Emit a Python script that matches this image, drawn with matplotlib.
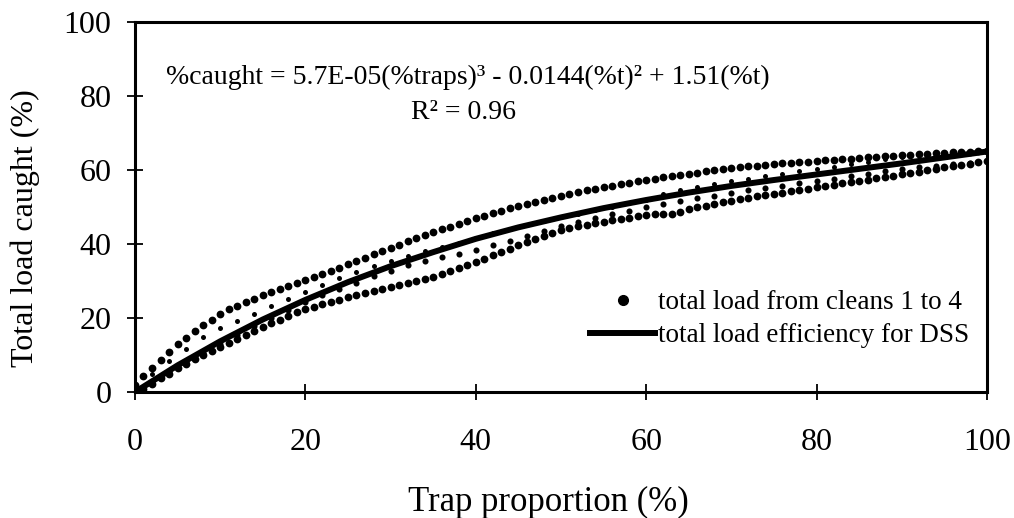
import matplotlib
matplotlib.use("Agg")
import matplotlib.pyplot as plt
from matplotlib.lines import Line2D

plt.rcParams['font.family'] = ['Liberation Serif', 'DejaVu Serif']

# trap proportion (%) for the 1% and 2% spaced bands
x_fine = list(range(0, 101))
x_coarse = list(range(2, 101, 2))

# upper band of cleans
clean_a = [2.0, 4.4, 6.5, 8.7, 10.9, 13.0, 14.7, 16.4, 18.0, 19.5,
           21.0, 22.4, 23.3, 24.3, 25.2, 26.2, 27.0, 27.8, 28.6, 29.4,
           30.2, 31.1, 31.9, 32.8, 33.6, 34.5, 35.4, 36.3, 37.2, 38.1,
           39.0, 39.8, 40.7, 41.5, 42.4, 43.2, 44.0, 44.7, 45.5, 46.2,
           47.0, 47.7, 48.3, 49.0, 49.6, 50.3, 50.9, 51.4, 52.0, 52.5,
           53.1, 53.5, 54.0, 54.5, 54.9, 55.4, 55.8, 56.2, 56.5, 56.9,
           57.3, 57.6, 58.0, 58.3, 58.7, 59.0, 59.3, 59.6, 60.0, 60.3,
           60.6, 60.8, 61.0, 61.2, 61.4, 61.6, 61.8, 62.0, 62.1, 62.3,
           62.4, 62.6, 62.8, 62.9, 63.1, 63.2, 63.4, 63.5, 63.7, 63.8,
           64.0, 64.1, 64.3, 64.4, 64.5, 64.7, 64.8, 64.9, 65.0, 65.1,
           65.2]

# lowest band of cleans
clean_d = [0.5, 0.9, 2.3, 3.7, 5.0, 6.4, 7.6, 8.9, 10.0, 11.2,
           12.2, 13.3, 14.4, 15.5, 16.6, 17.6, 18.6, 19.6, 20.5, 21.5,
           22.4, 23.1, 23.8, 24.4, 25.0, 25.6, 26.2, 26.8, 27.3, 27.9,
           28.4, 29.0, 29.5, 30.1, 30.6, 31.2, 32.0, 32.7, 33.5, 34.3,
           35.1, 36.0, 36.9, 37.8, 38.7, 39.6, 40.5, 41.4, 42.2, 43.1,
           43.9, 44.4, 44.8, 45.2, 45.6, 46.0, 46.4, 46.8, 47.1, 47.5,
           47.9, 48.0, 48.1, 48.1, 48.7, 49.4, 49.9, 50.4, 50.8, 51.3,
           51.7, 52.1, 52.5, 52.9, 53.2, 53.6, 53.9, 54.3, 54.6, 55.0,
           55.3, 55.7, 56.0, 56.4, 56.7, 57.1, 57.4, 57.8, 58.1, 58.5,
           58.8, 59.2, 59.5, 60.0, 60.3, 60.7, 61.0, 61.4, 61.7, 62.2,
           62.5]

# dotted band just above the fit
clean_b = [4.8, 8.3, 11.6, 14.8, 17.2, 19.3, 21.2, 23.2, 25.1, 27.0,
           28.9, 30.7, 32.4, 34.0, 35.5, 36.8, 38.0, 39.2, 40.4, 41.7,
           42.9, 44.0, 45.1, 46.2, 47.2, 48.2, 49.2, 50.1, 51.0, 52.0,
           53.6, 54.6, 55.4, 56.2, 56.9, 57.6, 58.3, 58.9, 59.6, 60.2,
           60.9, 61.6, 62.3, 63.0, 63.6, 64.1, 64.5, 64.8, 65.0, 65.1]

# band just below the fit
clean_c = [2.5, 5.3, 8.0, 10.6, 13.1, 15.5, 17.8, 20.0, 22.1, 24.2,
           26.1, 27.9, 29.6, 31.3, 32.8, 34.2, 35.4, 36.4, 37.2, 38.3,
           39.6, 40.9, 42.1, 43.5, 44.8, 45.9, 47.1, 48.1, 49.0, 50.0,
           50.8, 51.6, 52.4, 53.1, 53.8, 54.5, 55.2, 55.8, 56.5, 57.1,
           57.7, 58.3, 59.0, 59.7, 60.2, 60.7, 61.2, 61.6, 62.0, 62.5]

# DSS efficiency curve
fit_x = [0, 5, 10, 15, 20, 25, 30, 35, 40, 45, 50,
         55, 60, 65, 70, 75, 80, 85, 90, 95, 100]
fit_y = [0.0, 7.2, 13.7, 19.6, 24.9, 29.7, 34.0, 37.8, 41.4, 44.5, 47.2,
         49.7, 51.9, 53.9, 55.7, 57.3, 58.8, 60.3, 61.8, 63.4, 65.0]

fig = plt.figure(figsize=(10.14, 5.18), dpi=100)
ax = fig.add_axes([0.1331, 0.2432, 0.8402, 0.7143])

ax.plot(x_fine, clean_a, 'o', color='black', ms=5.6, mec='none', zorder=2)
ax.plot(x_fine, clean_d, 'o', color='black', ms=5.6, mec='none', zorder=2)
ax.plot(x_coarse, clean_b, 'o', color='black', ms=3.6, mec='none', zorder=2)
ax.plot(x_coarse, clean_c, 'o', color='black', ms=4.4, mec='none', zorder=2)
ax.plot(fit_x, fit_y, '-', color='black', lw=4.3, solid_capstyle='round', zorder=3)

ax.set_xlim(0, 100)
ax.set_ylim(0, 100)
ax.set_xticks([0, 20, 40, 60, 80, 100])
ax.set_yticks([0, 20, 40, 60, 80, 100])
ax.tick_params(direction='inout', length=12, width=1.3, labelsize=23)
ax.tick_params(axis='x', pad=20)
ax.tick_params(axis='y', pad=11)
for s in ax.spines.values():
    s.set_linewidth(2.2)

ax.set_xlabel('Trap proportion (%)', fontsize=25)
ax.set_ylabel('Total load caught (%)', fontsize=23)
ax.xaxis.set_label_coords(0.485, -0.255)
ax.yaxis.set_label_coords(-0.112, 0.443)

fig.text(0.461, 0.851, '%caught = 5.7E-05(%traps)³ - 0.0144(%t)² + 1.51(%t)',
         ha='center', va='center', fontsize=20)
fig.text(0.457, 0.783, 'R² = 0.96', ha='center', va='center', fontsize=20)

handles = [Line2D([], [], ls='none', marker='o', color='black', ms=7),
           Line2D([], [], color='black', lw=4.3)]
ax.legend(handles, ['total load from cleans 1 to 4', 'total load efficiency for DSS'],
          loc='upper left', bbox_to_anchor=(0.582, 0.44), bbox_transform=fig.transFigure,
          frameon=False, fontsize=19.5, handlelength=2.4, handletextpad=0.1,
          labelspacing=0.3, borderpad=0, borderaxespad=0)

fig.savefig('out.png', dpi=100)
